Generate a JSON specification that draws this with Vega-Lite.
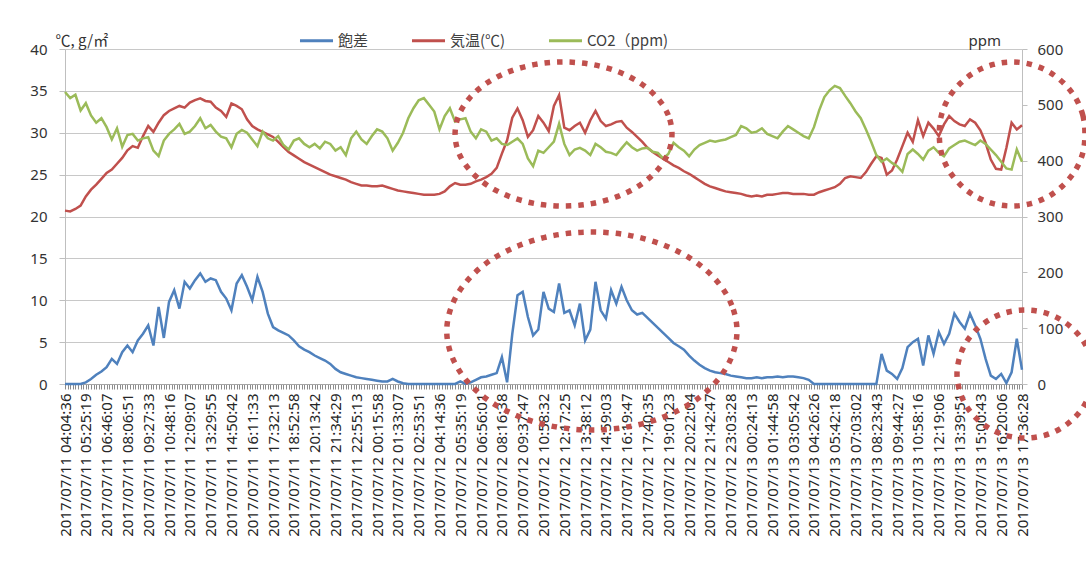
{
"$schema": "https://vega.github.io/schema/vega-lite/v6.json",
"width": 957, "height": 335,
"autosize": {"type": "none"},
"padding": {"left": 65, "top": 49, "right": 64, "bottom": 182},
"background": "white",
"config": {"view": {"stroke": null}, "font": "Noto Sans"},
"datasets": {
"d": [
{"i":0,"v":0,"a":20.7,"c":523},{"i":1,"v":0,"a":20.6,"c":512},{"i":2,"v":0,"a":20.9,"c":518},{"i":3,"v":0,"a":21.3,"c":490},
{"i":4,"v":0.2,"a":22.4,"c":503},{"i":5,"v":0.6,"a":23.2,"c":481},{"i":6,"v":1.1,"a":23.8,"c":468},{"i":7,"v":1.5,"a":24.5,"c":476},
{"i":8,"v":2.0,"a":25.2,"c":460},{"i":9,"v":3.0,"a":25.6,"c":438},{"i":10,"v":2.4,"a":26.3,"c":458},{"i":11,"v":3.8,"a":27.0,"c":425},
{"i":12,"v":4.6,"a":27.9,"c":446},{"i":13,"v":3.8,"a":28.4,"c":448},{"i":14,"v":5.2,"a":28.2,"c":436},{"i":15,"v":6.0,"a":29.6,"c":440},
{"i":16,"v":7.0,"a":30.8,"c":442},{"i":17,"v":4.6,"a":30.1,"c":418},{"i":18,"v":9.2,"a":31.2,"c":408},{"i":19,"v":5.5,"a":32.1,"c":436},
{"i":20,"v":9.8,"a":32.6,"c":448},{"i":21,"v":11.2,"a":32.9,"c":456},{"i":22,"v":9.0,"a":33.2,"c":466},{"i":23,"v":12.2,"a":33.0,"c":448},
{"i":24,"v":11.4,"a":33.6,"c":452},{"i":25,"v":12.4,"a":33.9,"c":462},{"i":26,"v":13.2,"a":34.1,"c":476},{"i":27,"v":12.2,"a":33.8,"c":458},
{"i":28,"v":12.6,"a":33.7,"c":464},{"i":29,"v":12.4,"a":33.0,"c":452},{"i":30,"v":11.0,"a":32.6,"c":443},{"i":31,"v":10.2,"a":31.9,"c":440},
{"i":32,"v":8.8,"a":33.5,"c":424},{"i":33,"v":12.0,"a":33.2,"c":448},{"i":34,"v":13.0,"a":32.8,"c":455},{"i":35,"v":11.6,"a":31.6,"c":450},
{"i":36,"v":10.0,"a":30.8,"c":438},{"i":37,"v":12.8,"a":30.4,"c":426},{"i":38,"v":11.0,"a":30.1,"c":452},{"i":39,"v":8.4,"a":29.8,"c":440},
{"i":40,"v":6.8,"a":29.5,"c":436},{"i":41,"v":6.4,"a":28.9,"c":444},{"i":42,"v":6.1,"a":28.3,"c":428},{"i":43,"v":5.8,"a":27.7,"c":420},
{"i":44,"v":5.2,"a":27.3,"c":436},{"i":45,"v":4.5,"a":26.9,"c":440},{"i":46,"v":4.1,"a":26.5,"c":430},{"i":47,"v":3.8,"a":26.2,"c":424},
{"i":48,"v":3.4,"a":25.9,"c":430},{"i":49,"v":3.1,"a":25.6,"c":422},{"i":50,"v":2.8,"a":25.3,"c":434},{"i":51,"v":2.4,"a":25.0,"c":430},
{"i":52,"v":1.8,"a":24.8,"c":418},{"i":53,"v":1.4,"a":24.6,"c":424},{"i":54,"v":1.2,"a":24.4,"c":410},{"i":55,"v":1.0,"a":24.1,"c":440},
{"i":56,"v":0.8,"a":23.9,"c":452},{"i":57,"v":0.7,"a":23.7,"c":438},{"i":58,"v":0.6,"a":23.7,"c":430},{"i":59,"v":0.5,"a":23.6,"c":444},
{"i":60,"v":0.4,"a":23.6,"c":456},{"i":61,"v":0.3,"a":23.7,"c":452},{"i":62,"v":0.3,"a":23.5,"c":440},{"i":63,"v":0.6,"a":23.3,"c":418},
{"i":64,"v":0.3,"a":23.1,"c":432},{"i":65,"v":0.1,"a":23.0,"c":450},{"i":66,"v":0,"a":22.9,"c":476},{"i":67,"v":0,"a":22.8,"c":494},
{"i":68,"v":0,"a":22.7,"c":508},{"i":69,"v":0,"a":22.6,"c":512},{"i":70,"v":0,"a":22.6,"c":500},{"i":71,"v":0,"a":22.6,"c":488},
{"i":72,"v":0,"a":22.7,"c":456},{"i":73,"v":0,"a":23.0,"c":480},{"i":74,"v":0,"a":23.6,"c":494},{"i":75,"v":0,"a":24.0,"c":470},
{"i":76,"v":0.3,"a":23.8,"c":474},{"i":77,"v":0,"a":23.8,"c":476},{"i":78,"v":0.2,"a":23.9,"c":452},{"i":79,"v":0.5,"a":24.2,"c":440},
{"i":80,"v":0.8,"a":24.4,"c":456},{"i":81,"v":0.9,"a":24.7,"c":452},{"i":82,"v":1.1,"a":25.1,"c":436},{"i":83,"v":1.3,"a":25.8,"c":440},
{"i":84,"v":3.2,"a":27.5,"c":430},{"i":85,"v":0.2,"a":29.1,"c":428},{"i":86,"v":6.0,"a":31.8,"c":434},{"i":87,"v":10.6,"a":32.9,"c":440},
{"i":88,"v":11.0,"a":31.5,"c":430},{"i":89,"v":8.0,"a":29.5,"c":404},{"i":90,"v":5.8,"a":30.3,"c":390},{"i":91,"v":6.5,"a":32.0,"c":418},
{"i":92,"v":11.0,"a":31.2,"c":414},{"i":93,"v":9.0,"a":30.2,"c":424},{"i":94,"v":8.6,"a":33.2,"c":434},{"i":95,"v":12.0,"a":34.5,"c":466},
{"i":96,"v":8.5,"a":30.6,"c":430},{"i":97,"v":8.8,"a":30.3,"c":410},{"i":98,"v":7.0,"a":30.8,"c":420},{"i":99,"v":9.6,"a":31.2,"c":423},
{"i":100,"v":5.2,"a":30.0,"c":418},{"i":101,"v":6.5,"a":31.5,"c":410},{"i":102,"v":12.2,"a":32.6,"c":430},{"i":103,"v":8.8,"a":31.4,"c":424},
{"i":104,"v":7.8,"a":30.8,"c":416},{"i":105,"v":11.2,"a":31.0,"c":414},{"i":106,"v":9.6,"a":31.3,"c":410},{"i":107,"v":11.6,"a":31.4,"c":422},
{"i":108,"v":10.0,"a":30.6,"c":433},{"i":109,"v":8.8,"a":30.1,"c":424},{"i":110,"v":8.3,"a":29.5,"c":418},{"i":111,"v":8.5,"a":28.9,"c":422},
{"i":112,"v":7.9,"a":28.2,"c":423},{"i":113,"v":7.3,"a":27.7,"c":416},{"i":114,"v":6.7,"a":27.3,"c":414},{"i":115,"v":6.1,"a":26.9,"c":404},
{"i":116,"v":5.5,"a":26.5,"c":412},{"i":117,"v":4.9,"a":26.1,"c":432},{"i":118,"v":4.5,"a":25.8,"c":424},{"i":119,"v":4.1,"a":25.4,"c":418},
{"i":120,"v":3.4,"a":25.1,"c":408},{"i":121,"v":2.8,"a":24.7,"c":420},{"i":122,"v":2.3,"a":24.3,"c":428},{"i":123,"v":1.9,"a":23.9,"c":432},
{"i":124,"v":1.6,"a":23.6,"c":436},{"i":125,"v":1.4,"a":23.4,"c":434},{"i":126,"v":1.3,"a":23.2,"c":436},{"i":127,"v":1.2,"a":23.0,"c":438},
{"i":128,"v":1.0,"a":22.9,"c":442},{"i":129,"v":0.9,"a":22.8,"c":446},{"i":130,"v":0.8,"a":22.7,"c":462},{"i":131,"v":0.7,"a":22.5,"c":458},
{"i":132,"v":0.7,"a":22.4,"c":450},{"i":133,"v":0.8,"a":22.5,"c":452},{"i":134,"v":0.7,"a":22.4,"c":458},{"i":135,"v":0.8,"a":22.6,"c":448},
{"i":136,"v":0.8,"a":22.6,"c":444},{"i":137,"v":0.9,"a":22.7,"c":440},{"i":138,"v":0.8,"a":22.8,"c":452},{"i":139,"v":0.9,"a":22.8,"c":462},
{"i":140,"v":0.9,"a":22.7,"c":456},{"i":141,"v":0.8,"a":22.7,"c":450},{"i":142,"v":0.7,"a":22.7,"c":444},{"i":143,"v":0.5,"a":22.6,"c":440},
{"i":144,"v":0,"a":22.6,"c":460},{"i":145,"v":0,"a":22.9,"c":490},{"i":146,"v":0,"a":23.1,"c":514},{"i":147,"v":0,"a":23.3,"c":526},
{"i":148,"v":0,"a":23.5,"c":534},{"i":149,"v":0,"a":23.9,"c":530},{"i":150,"v":0,"a":24.6,"c":516},{"i":151,"v":0,"a":24.8,"c":503},
{"i":152,"v":0,"a":24.7,"c":488},{"i":153,"v":0,"a":24.6,"c":476},{"i":154,"v":0,"a":25.3,"c":456},{"i":155,"v":0,"a":26.3,"c":434},
{"i":156,"v":0,"a":27.2,"c":410},{"i":157,"v":3.6,"a":27.0,"c":398},{"i":158,"v":1.6,"a":25.0,"c":404},{"i":159,"v":1.2,"a":25.5,"c":396},
{"i":160,"v":0.6,"a":26.8,"c":390},{"i":161,"v":1.9,"a":28.4,"c":380},{"i":162,"v":4.4,"a":30.0,"c":412},{"i":163,"v":5.0,"a":28.9,"c":420},
{"i":164,"v":5.4,"a":31.5,"c":412},{"i":165,"v":2.2,"a":29.6,"c":402},{"i":166,"v":5.8,"a":31.2,"c":418},{"i":167,"v":3.6,"a":30.5,"c":424},
{"i":168,"v":6.2,"a":29.6,"c":414},{"i":169,"v":4.8,"a":31.0,"c":408},{"i":170,"v":6.0,"a":32.0,"c":422},{"i":171,"v":8.4,"a":31.4,"c":428},
{"i":172,"v":7.4,"a":31.0,"c":434},{"i":173,"v":6.6,"a":30.8,"c":436},{"i":174,"v":8.4,"a":31.6,"c":432},{"i":175,"v":7.0,"a":31.2,"c":428},
{"i":176,"v":5.4,"a":30.3,"c":436},{"i":177,"v":3.0,"a":28.8,"c":430},{"i":178,"v":1.0,"a":26.8,"c":420},{"i":179,"v":0.6,"a":25.7,"c":410},
{"i":180,"v":1.2,"a":25.6,"c":398},{"i":181,"v":0.1,"a":28.2,"c":386},{"i":182,"v":1.4,"a":31.2,"c":384},{"i":183,"v":5.4,"a":30.4,"c":420},
{"i":184,"v":1.7,"a":30.9,"c":398}
],
"ell": [
{"e":1,"k":0,"x":116.7,"y":29.85},{"e":1,"k":1,"x":116.0,"y":32.08},{"e":1,"k":2,"x":113.9,"y":34.15},{"e":1,"k":3,"x":110.6,"y":35.93},
{"e":1,"k":4,"x":106.3,"y":37.3},{"e":1,"k":5,"x":101.25,"y":38.16},{"e":1,"k":6,"x":95.85,"y":38.45},{"e":1,"k":7,"x":90.45,"y":38.16},
{"e":1,"k":8,"x":85.4,"y":37.3},{"e":1,"k":9,"x":81.1,"y":35.93},{"e":1,"k":10,"x":77.8,"y":34.15},{"e":1,"k":11,"x":75.7,"y":32.08},
{"e":1,"k":12,"x":75.0,"y":29.85},{"e":1,"k":13,"x":75.7,"y":27.62},{"e":1,"k":14,"x":77.8,"y":25.55},{"e":1,"k":15,"x":81.1,"y":23.77},
{"e":1,"k":16,"x":85.4,"y":22.4},{"e":1,"k":17,"x":90.45,"y":21.54},{"e":1,"k":18,"x":95.85,"y":21.25},{"e":1,"k":19,"x":101.25,"y":21.54},
{"e":1,"k":20,"x":106.3,"y":22.4},{"e":1,"k":21,"x":110.6,"y":23.77},{"e":1,"k":22,"x":113.9,"y":25.55},{"e":1,"k":23,"x":116.0,"y":27.62},
{"e":2,"k":0,"x":196.1,"y":29.85},{"e":2,"k":1,"x":195.7,"y":32.08},{"e":2,"k":2,"x":194.3,"y":34.15},{"e":2,"k":3,"x":192.0,"y":35.93},
{"e":2,"k":4,"x":189.1,"y":37.3},{"e":2,"k":5,"x":185.7,"y":38.16},{"e":2,"k":6,"x":182.1,"y":38.45},{"e":2,"k":7,"x":178.5,"y":38.16},
{"e":2,"k":8,"x":175.1,"y":37.3},{"e":2,"k":9,"x":172.2,"y":35.93},{"e":2,"k":10,"x":169.9,"y":34.15},{"e":2,"k":11,"x":168.5,"y":32.08},
{"e":2,"k":12,"x":168.1,"y":29.85},{"e":2,"k":13,"x":168.5,"y":27.62},{"e":2,"k":14,"x":169.9,"y":25.55},{"e":2,"k":15,"x":172.2,"y":23.77},
{"e":2,"k":16,"x":175.1,"y":22.4},{"e":2,"k":17,"x":178.5,"y":21.54},{"e":2,"k":18,"x":182.1,"y":21.25},{"e":2,"k":19,"x":185.7,"y":21.54},
{"e":2,"k":20,"x":189.1,"y":22.4},{"e":2,"k":21,"x":192.0,"y":23.77},{"e":2,"k":22,"x":194.3,"y":25.55},{"e":2,"k":23,"x":195.7,"y":27.62},
{"e":3,"k":0,"x":129.2,"y":6.33},{"e":3,"k":1,"x":128.2,"y":9.39},{"e":3,"k":2,"x":125.4,"y":12.24},{"e":3,"k":3,"x":121.0,"y":14.69},
{"e":3,"k":4,"x":115.2,"y":16.57},{"e":3,"k":5,"x":108.5,"y":17.75},{"e":3,"k":6,"x":101.3,"y":18.15},{"e":3,"k":7,"x":94.1,"y":17.75},
{"e":3,"k":8,"x":87.4,"y":16.57},{"e":3,"k":9,"x":81.6,"y":14.69},{"e":3,"k":10,"x":77.2,"y":12.24},{"e":3,"k":11,"x":74.4,"y":9.39},
{"e":3,"k":12,"x":73.4,"y":6.33},{"e":3,"k":13,"x":74.4,"y":3.27},{"e":3,"k":14,"x":77.2,"y":0.42},{"e":3,"k":15,"x":81.6,"y":-2.03},
{"e":3,"k":16,"x":87.4,"y":-3.91},{"e":3,"k":17,"x":94.1,"y":-5.09},{"e":3,"k":18,"x":101.3,"y":-5.49},{"e":3,"k":19,"x":108.5,"y":-5.09},
{"e":3,"k":20,"x":115.2,"y":-3.91},{"e":3,"k":21,"x":121.0,"y":-2.03},{"e":3,"k":22,"x":125.4,"y":0.42},{"e":3,"k":23,"x":128.2,"y":3.27},
{"e":4,"k":0,"x":197.7,"y":1.19},{"e":4,"k":1,"x":197.2,"y":3.17},{"e":4,"k":2,"x":195.9,"y":5.01},{"e":4,"k":3,"x":193.8,"y":6.59},
{"e":4,"k":4,"x":191.1,"y":7.81},{"e":4,"k":5,"x":188.0,"y":8.57},{"e":4,"k":6,"x":184.6,"y":8.83},{"e":4,"k":7,"x":181.2,"y":8.57},
{"e":4,"k":8,"x":178.1,"y":7.81},{"e":4,"k":9,"x":175.4,"y":6.59},{"e":4,"k":10,"x":173.3,"y":5.01},{"e":4,"k":11,"x":172.0,"y":3.17},
{"e":4,"k":12,"x":171.5,"y":1.19},{"e":4,"k":13,"x":172.0,"y":-0.79},{"e":4,"k":14,"x":173.3,"y":-2.63},{"e":4,"k":15,"x":175.4,"y":-4.21},
{"e":4,"k":16,"x":178.1,"y":-5.43},{"e":4,"k":17,"x":181.2,"y":-6.19},{"e":4,"k":18,"x":184.6,"y":-6.45},{"e":4,"k":19,"x":188.0,"y":-6.19},
{"e":4,"k":20,"x":191.1,"y":-5.43},{"e":4,"k":21,"x":193.8,"y":-4.21},{"e":4,"k":22,"x":195.9,"y":-2.63},{"e":4,"k":23,"x":197.2,"y":-0.79}
]
},
"data": {"name": "d"},
"layer": [
{
"transform": [{"fold": ["v", "a"], "as": ["s", "val"]}],
"mark": {"type": "line", "strokeWidth": 2.5},
"encoding": {
"x": {"field": "i", "type": "quantitative", "scale": {"domain": [0, 184], "nice": false, "zero": false},
"axis": {"title": null, "tickCount": 368, "grid": false, "zindex": 0,
"labelExpr": "datum.value % 4 === 0 ? ['2017/07/11 04:04:36','2017/07/11 05:25:19','2017/07/11 06:46:07','2017/07/11 08:06:51','2017/07/11 09:27:33','2017/07/11 10:48:16','2017/07/11 12:09:07','2017/07/11 13:29:55','2017/07/11 14:50:42','2017/07/11 16:11:33','2017/07/11 17:32:13','2017/07/11 18:52:58','2017/07/11 20:13:42','2017/07/11 21:34:29','2017/07/11 22:55:13','2017/07/12 00:15:58','2017/07/12 01:33:07','2017/07/12 02:53:51','2017/07/12 04:14:36','2017/07/12 05:35:19','2017/07/12 06:56:01','2017/07/12 08:16:38','2017/07/12 09:37:47','2017/07/12 10:58:32','2017/07/12 12:17:25','2017/07/12 13:38:12','2017/07/12 14:59:03','2017/07/12 16:19:47','2017/07/12 17:40:35','2017/07/12 19:01:23','2017/07/12 20:22:04','2017/07/12 21:42:47','2017/07/12 23:03:28','2017/07/13 00:24:13','2017/07/13 01:44:58','2017/07/13 03:05:42','2017/07/13 04:26:26','2017/07/13 05:42:18','2017/07/13 07:03:02','2017/07/13 08:23:43','2017/07/13 09:44:27','2017/07/13 10:58:16','2017/07/13 12:19:06','2017/07/13 13:39:51','2017/07/13 15:00:43','2017/07/13 16:20:06','2017/07/13 17:36:28'][datum.value / 4] : ''",
"labelAngle": 270, "labelAlign": "right", "labelBaseline": "middle", "labelFontSize": 15, "labelColor": "#262626",
"labelOverlap": false, "labelBound": false, "labelFlush": false, "labelPadding": 4,
"tickSize": 5, "tickColor": "#8C8C8C", "tickWidth": 1, "domainColor": "#A6A6A6"}},
"y": {"field": "val", "type": "quantitative", "scale": {"domain": [0, 40], "nice": false},
"axis": {"title": "℃, g/㎡", "titleAngle": 0, "titleAlign": "left", "titleBaseline": "alphabetic", "titleX": -10, "titleY": -4,
"titleFont": "Noto Sans CJK JP", "titleFontSize": 15, "titleFontWeight": "normal", "titleColor": "#333333",
"values": [0, 5, 10, 15, 20, 25, 30, 35, 40], "grid": true, "gridColor": "#C8C8C8", "zindex": 0,
"tickSize": 6, "tickColor": "#BFBFBF", "domainColor": "#BFBFBF",
"labelFontSize": 15, "labelPadding": 12, "labelColor": "#333333"}},
"color": {"field": "s", "type": "nominal",
"scale": {"domain": ["v", "a", "c"], "range": ["#4F81BD", "#C0504D", "#9BBB59"]},
"legend": {"orient": "none", "legendX": 233, "legendY": -27, "direction": "horizontal", "title": null,
"symbolType": "stroke", "symbolSize": 1090, "symbolStrokeWidth": 3, "padding": 0,
"labelFont": "Noto Sans CJK JP", "labelFontSize": 15, "labelColor": "#404040", "labelOffset": 3, "columnPadding": 36,
"labelExpr": "datum.label == 'v' ? '飽差' : datum.label == 'a' ? '気温(℃)' : 'CO2（ppm)'"}}
}
},
{
"mark": {"type": "line", "strokeWidth": 2.5},
"encoding": {
"x": {"field": "i", "type": "quantitative"},
"y": {"field": "c", "type": "quantitative", "scale": {"domain": [0, 600], "nice": false},
"axis": {"orient": "right", "title": "ppm", "titleAngle": 0, "titleAlign": "left", "titleBaseline": "alphabetic", "titleX": -54, "titleY": -4,
"titleFontSize": 15, "titleFontWeight": "normal", "titleColor": "#333333",
"values": [0, 100, 200, 300, 400, 500, 600], "grid": false, "zindex": 0,
"tickSize": 5, "tickColor": "#BFBFBF", "domainColor": "#BFBFBF",
"labelFontSize": 15, "labelPadding": 10, "labelColor": "#333333"}},
"color": {"datum": "c"}
}
},
{
"data": {"name": "ell"},
"mark": {"type": "line", "interpolate": "cardinal-closed", "strokeWidth": 5.5, "strokeDash": [5.5, 7], "color": "#C0504D"},
"encoding": {
"x": {"field": "x", "type": "quantitative"},
"y": {"field": "y", "type": "quantitative", "scale": {"domain": [0, 40], "nice": false}, "axis": null},
"detail": {"field": "e"},
"order": {"field": "k"}
}
}
],
"resolve": {"scale": {"y": "independent"}}
}
